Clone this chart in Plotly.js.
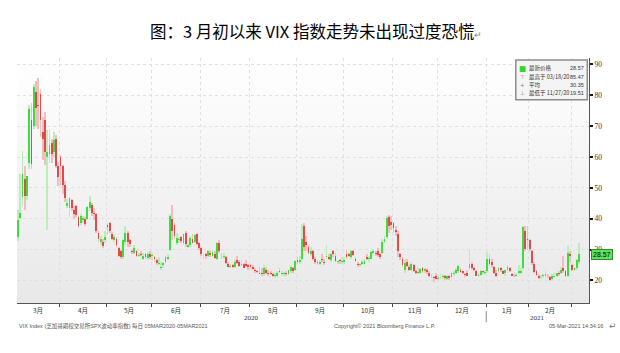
<!DOCTYPE html>
<html><head><meta charset="utf-8">
<script src="https://cdn.plot.ly/plotly-3.0.1.min.js"></script>
<style>html,body{margin:0;padding:0;background:#fff;}#chart{width:620px;height:353px;}</style>
</head><body><div id="chart"></div>
<script>
// ---- data: VIX daily candles, 05MAR2020 - 04MAR2021 ----
const dates = [
'2020-03-05','2020-03-06','2020-03-09','2020-03-10','2020-03-11','2020-03-12','2020-03-13','2020-03-16','2020-03-17','2020-03-18','2020-03-19','2020-03-20','2020-03-23','2020-03-24','2020-03-25','2020-03-26','2020-03-27','2020-03-30','2020-03-31',
'2020-04-01','2020-04-02','2020-04-03','2020-04-06','2020-04-07','2020-04-08','2020-04-09','2020-04-13','2020-04-14','2020-04-15','2020-04-16','2020-04-17','2020-04-20','2020-04-21','2020-04-22','2020-04-23','2020-04-24','2020-04-27','2020-04-28','2020-04-29','2020-04-30',
'2020-05-01','2020-05-04','2020-05-05','2020-05-06','2020-05-07','2020-05-08','2020-05-11','2020-05-12','2020-05-13','2020-05-14','2020-05-15','2020-05-18','2020-05-19','2020-05-20','2020-05-21','2020-05-22','2020-05-26','2020-05-27','2020-05-28','2020-05-29',
'2020-06-01','2020-06-02','2020-06-03','2020-06-04','2020-06-05','2020-06-08','2020-06-09','2020-06-10','2020-06-11','2020-06-12','2020-06-15','2020-06-16','2020-06-17','2020-06-18','2020-06-19','2020-06-22','2020-06-23','2020-06-24','2020-06-25','2020-06-26','2020-06-29','2020-06-30',
'2020-07-01','2020-07-02','2020-07-06','2020-07-07','2020-07-08','2020-07-09','2020-07-10','2020-07-13','2020-07-14','2020-07-15','2020-07-16','2020-07-17','2020-07-20','2020-07-21','2020-07-22','2020-07-23','2020-07-24','2020-07-27','2020-07-28','2020-07-29','2020-07-30','2020-07-31',
'2020-08-03','2020-08-04','2020-08-05','2020-08-06','2020-08-07','2020-08-10','2020-08-11','2020-08-12','2020-08-13','2020-08-14','2020-08-17','2020-08-18','2020-08-19','2020-08-20','2020-08-21','2020-08-24','2020-08-25','2020-08-26','2020-08-27','2020-08-28','2020-08-31',
'2020-09-01','2020-09-02','2020-09-03','2020-09-04','2020-09-08','2020-09-09','2020-09-10','2020-09-11','2020-09-14','2020-09-15','2020-09-16','2020-09-17','2020-09-18','2020-09-21','2020-09-22','2020-09-23','2020-09-24','2020-09-25','2020-09-28','2020-09-29','2020-09-30',
'2020-10-01','2020-10-02','2020-10-05','2020-10-06','2020-10-07','2020-10-08','2020-10-09','2020-10-12','2020-10-13','2020-10-14','2020-10-15','2020-10-16','2020-10-19','2020-10-20','2020-10-21','2020-10-22','2020-10-23','2020-10-26','2020-10-27','2020-10-28','2020-10-29','2020-10-30',
'2020-11-02','2020-11-03','2020-11-04','2020-11-05','2020-11-06','2020-11-09','2020-11-10','2020-11-11','2020-11-12','2020-11-13','2020-11-16','2020-11-17','2020-11-18','2020-11-19','2020-11-20','2020-11-23','2020-11-24','2020-11-25','2020-11-27','2020-11-30',
'2020-12-01','2020-12-02','2020-12-03','2020-12-04','2020-12-07','2020-12-08','2020-12-09','2020-12-10','2020-12-11','2020-12-14','2020-12-15','2020-12-16','2020-12-17','2020-12-18','2020-12-21','2020-12-22','2020-12-23','2020-12-24','2020-12-28','2020-12-29','2020-12-30','2020-12-31',
'2021-01-04','2021-01-05','2021-01-06','2021-01-07','2021-01-08','2021-01-11','2021-01-12','2021-01-13','2021-01-14','2021-01-15','2021-01-19','2021-01-20','2021-01-21','2021-01-22','2021-01-25','2021-01-26','2021-01-27','2021-01-28','2021-01-29',
'2021-02-01','2021-02-02','2021-02-03','2021-02-04','2021-02-05','2021-02-08','2021-02-09','2021-02-10','2021-02-11','2021-02-12','2021-02-16','2021-02-17','2021-02-18','2021-02-19','2021-02-22','2021-02-23','2021-02-24','2021-02-25','2021-02-26',
'2021-03-01','2021-03-02','2021-03-03','2021-03-04'
];
const open = [
34.0,40.2,47.0,53.0,47.5,58.0,72.0,70.0,81.0,77.0,80.5,68.0,72.0,60.0,61.0,64.5,61.5,65.8,57.2,
60.0,57.0,51.0,44.0,43.5,46.0,43.0,44.0,40.5,38.5,39.5,40.0,40.0,43.5,44.5,42.0,41.5,35.5,32.5,32.5,33.0,
38.0,38.5,35.0,33.0,33.5,30.5,29.5,27.5,32.5,35.5,33.0,29.5,29.0,29.5,27.8,28.7,27.0,28.5,27.3,28.5,
28.0,27.5,26.5,25.5,24.0,25.0,26.0,27.0,30.0,40.0,38.0,32.0,33.0,34.0,32.0,35.5,31.0,31.5,33.5,32.5,35.0,32.0,
30.5,27.5,28.5,28.0,29.0,28.0,28.5,27.0,32.0,28.0,27.5,27.5,25.5,24.5,25.0,24.5,26.5,26.0,25.0,25.5,25.5,25.0,
25.0,24.5,23.5,23.0,22.5,22.5,22.0,23.5,22.5,22.5,22.0,21.5,21.5,23.0,22.0,22.0,22.5,22.0,23.0,24.0,23.5,
26.5,26.0,27.0,37.5,32.5,31.0,28.5,29.5,27.0,26.0,25.5,27.0,26.0,27.5,27.5,26.5,29.5,28.0,26.0,26.5,26.0,
26.0,28.5,28.5,27.5,29.5,27.0,25.5,25.0,25.5,25.5,27.5,27.0,27.0,29.0,29.0,29.5,28.5,29.0,32.5,34.0,40.5,39.0,
38.5,36.5,35.0,28.5,27.0,23.5,26.0,24.5,23.5,25.0,23.0,22.5,22.5,24.0,23.0,23.5,22.5,21.5,21.0,21.5,
20.5,21.0,21.0,21.5,20.5,21.5,21.0,22.0,22.5,23.0,23.5,23.0,22.0,22.5,24.0,25.5,24.0,23.0,21.5,21.8,23.0,22.5,
23.0,27.0,26.0,24.5,22.5,23.0,24.0,23.0,22.5,23.5,24.0,22.0,21.5,21.5,22.5,22.5,24.0,36.0,33.5,
33.0,29.5,25.5,23.0,21.5,21.0,21.5,21.5,21.5,21.0,20.5,21.0,21.5,22.5,22.5,24.0,23.0,21.5,28.5,
25.0,23.5,24.0,26.0
];
const high = [
42.8,54.4,62.1,57.0,54.0,76.8,77.6,83.6,84.8,85.47,82.0,73.0,74.5,68.9,69.0,66.0,68.0,67.0,58.5,
60.6,57.5,52.3,46.5,47.0,46.5,44.0,44.5,41.0,41.5,41.0,40.5,44.0,47.5,45.0,43.5,42.0,36.0,34.5,33.5,36.0,
38.5,39.0,35.8,34.8,34.0,30.8,30.0,33.5,37.5,36.0,33.5,30.0,31.5,30.0,29.0,29.5,29.0,29.0,29.2,29.5,
29.0,28.0,27.0,27.5,26.0,26.0,28.0,28.5,41.5,44.4,38.5,35.5,34.0,34.5,35.5,36.0,32.0,34.5,35.0,35.0,35.5,32.5,
31.0,28.5,29.0,30.0,29.5,30.0,29.5,32.5,33.0,29.0,29.0,28.0,26.0,25.5,25.5,27.0,28.0,26.5,26.5,25.8,26.5,25.5,
25.5,25.0,24.0,23.5,24.5,24.0,25.0,24.5,23.5,23.0,22.5,22.5,23.0,24.0,23.0,22.8,23.0,23.5,24.8,24.5,26.5,
27.5,28.0,38.3,38.5,34.5,31.5,31.0,30.0,27.5,26.5,26.5,28.5,27.0,31.5,28.5,29.0,29.8,29.0,26.5,27.0,27.5,
27.5,30.0,29.0,29.8,30.0,27.5,26.0,25.8,26.5,27.0,28.5,28.0,29.5,30.0,29.5,30.5,28.8,33.5,34.5,41.0,41.2,41.0,
39.0,37.5,36.0,29.0,27.5,26.5,27.0,25.0,26.0,25.5,23.5,24.0,24.0,24.5,24.0,24.0,23.0,22.0,21.5,22.5,
21.5,22.0,22.0,21.8,21.8,21.8,22.8,23.0,24.0,25.0,24.0,23.2,22.5,23.5,30.0,26.0,24.5,23.3,22.5,23.5,23.2,23.5,
29.2,28.5,27.0,24.8,23.5,24.5,24.5,23.5,23.5,25.0,24.5,22.5,22.0,22.5,25.0,24.0,37.5,37.8,37.5,
33.5,29.8,26.0,23.5,22.0,21.8,22.0,23.0,22.0,21.3,22.0,22.5,22.5,23.0,24.5,28.0,23.5,31.2,29.5,
25.5,24.5,27.0,32.0
];
const low = [
32.9,40.0,44.0,43.0,46.0,56.0,56.0,69.0,70.0,69.0,66.5,59.0,57.5,36.5,58.0,58.0,60.0,56.5,50.5,
51.0,48.0,45.5,43.5,40.5,42.5,40.0,40.5,37.0,38.0,38.5,37.5,39.5,42.5,41.0,39.5,35.5,32.5,31.5,30.5,32.0,
35.0,35.5,33.0,32.5,31.0,27.5,27.0,27.0,31.5,31.0,31.0,28.5,28.5,27.5,27.5,27.8,26.5,27.0,26.5,26.8,
26.5,26.0,25.0,25.0,23.5,24.0,25.5,26.5,29.5,33.0,33.5,31.5,32.0,32.0,31.5,31.0,30.5,31.0,32.0,32.0,31.5,30.0,
28.0,26.5,27.0,27.5,27.5,27.5,27.0,26.5,29.0,27.0,27.0,25.5,24.5,24.0,24.0,24.0,25.5,24.5,24.5,24.0,24.5,23.5,
23.8,23.5,22.5,22.3,22.0,21.5,21.5,22.0,21.5,21.8,21.0,20.9,21.0,22.5,21.5,21.5,21.5,21.8,22.5,22.5,23.0,
25.5,25.5,26.5,29.5,29.5,28.5,28.0,26.5,25.5,25.0,25.0,26.0,25.0,27.0,26.5,26.0,27.5,26.0,25.5,25.5,25.5,
25.5,27.0,27.5,27.0,27.8,26.0,24.5,24.5,25.0,25.0,26.5,26.0,26.8,28.5,28.0,27.5,27.0,28.5,32.0,33.5,35.5,36.5,
35.5,34.5,27.5,26.5,24.5,22.5,24.5,23.0,23.0,22.8,22.0,22.0,22.0,22.5,22.5,22.0,21.0,20.8,19.51,20.5,
20.0,20.5,20.5,20.2,20.3,20.3,20.5,21.5,22.0,22.5,22.5,22.0,21.0,21.5,23.5,23.5,23.0,21.3,21.0,21.5,22.0,21.8,
22.5,24.8,24.0,22.0,21.0,22.5,22.8,22.0,21.5,23.0,22.8,21.3,21.0,21.0,22.0,22.0,23.5,29.5,30.0,
29.5,25.0,22.5,21.5,20.5,20.5,20.8,20.5,20.8,19.7,20.0,21.0,21.0,21.5,22.0,22.5,21.0,21.0,26.0,
23.0,23.0,23.5,25.5
];
const close = [
39.6,41.9,54.5,47.3,53.9,75.5,57.8,82.7,75.9,76.5,72.0,66.0,61.6,61.7,64.0,61.0,65.5,57.1,53.5,
57.1,50.9,46.8,45.2,46.7,43.4,41.7,41.2,37.8,40.8,40.1,38.2,43.8,45.4,42.0,41.4,35.9,33.3,33.6,31.2,34.2,
37.2,36.0,33.6,34.1,31.4,28.0,27.6,33.0,35.3,32.6,31.9,29.3,30.5,28.0,28.2,28.2,28.0,27.6,28.6,27.5,
28.2,26.8,25.7,25.8,24.5,25.8,27.6,27.6,40.8,36.1,34.4,33.7,33.5,32.9,35.1,31.8,31.4,33.8,32.2,34.7,31.8,30.4,
28.6,27.7,27.9,29.4,28.1,29.3,27.3,32.2,29.5,27.8,28.0,25.7,24.5,24.8,24.3,26.1,25.8,24.7,25.4,24.1,24.8,24.5,
24.3,23.8,23.0,22.7,22.2,22.1,24.0,22.3,22.1,22.1,21.4,21.5,22.5,22.7,22.5,22.4,22.0,23.3,24.5,23.0,26.4,
26.1,26.6,33.6,30.8,31.5,28.8,29.7,26.9,25.9,25.6,26.0,26.5,25.8,27.8,26.9,28.6,28.5,26.4,26.2,26.3,26.4,
26.7,27.6,28.0,29.5,28.1,26.4,25.0,25.1,26.1,26.4,27.0,27.4,29.2,29.4,28.7,28.1,27.6,32.5,33.4,40.3,37.6,38.0,
37.1,35.6,29.6,27.6,24.9,25.8,24.8,23.5,25.4,23.1,22.5,22.7,23.8,23.1,23.7,22.7,21.6,21.3,20.8,20.6,
20.8,21.2,21.3,20.8,21.3,20.7,22.3,22.5,23.3,24.7,22.9,22.5,21.9,21.6,25.2,24.2,23.3,21.5,21.7,23.1,22.8,22.8,
27.0,25.3,25.1,22.4,21.6,24.1,23.3,22.2,23.3,24.3,23.2,21.6,21.3,21.9,23.2,23.0,37.2,30.2,33.1,
30.2,25.6,22.9,21.8,20.9,21.2,21.6,22.0,21.3,20.0,21.5,21.5,22.5,22.1,23.5,23.1,21.3,28.9,28.0,
23.4,24.1,26.7,28.57
];
const yTicks = [20,30,40,50,60,70,80,90];
const legendLabels = ['最新价格','最高于 03/18/20','平均','最低于 11/27/20'];
const legendValues = ['28.57','85.47','30.35','19.51'];
const legendIcons = ['■','⊤','+','⊥'];
const lastPrice = '28.57';
const titleText = '图：3 月初以来 VIX 指数走势未出现过度恐慌';
const footLeft = 'VIX Index (芝加哥期权交易所SPX波动率指数) 每日 05MAR2020-05MAR2021';
const footMid = 'Copyright© 2021 Bloomberg Finance L.P.';
const footRight = '05-Mar-2021 14:34:16';

// ---- build ----
const n = dates.length;
const xi = dates.map((d, i) => i);
const up = xi.map(i => close[i] >= open[i]);
const wickCol = up.map(u => u ? '#b9edb9' : '#f4bcbc');
const bodyCol = up.map(u => u ? '#3fdc3f' : '#e24a4a');
const bodyBase = xi.map(i => Math.min(open[i], close[i]));
const bodyH = xi.map(i => Math.max(Math.abs(close[i] - open[i]), 0.25));
const wickH = xi.map(i => high[i] - low[i]);

// month groups
const groups = [];
dates.forEach((d, i) => {
  const key = d.slice(0, 7);
  if (!groups.length || groups[groups.length - 1].key !== key) groups.push({key, s: i, e: i});
  else groups[groups.length - 1].e = i;
});
const boundaries = groups.slice(1).map(g => g.s - 0.5);
const xMax = n - 1 + 4.5;

const annotations = [];
groups.forEach(g => {
  if (g.e - g.s < 5) return;
  const m = parseInt(g.key.slice(5, 7), 10);
  annotations.push({x: (g.s + g.e) / 2, xref: 'x', y: 0, yref: 'paper', yshift: -6.5, xanchor: 'center', yanchor: 'middle',
    text: m + '月', showarrow: false, font: {family: 'Noto Sans CJK SC', size: 6.5, color: '#333'}});
});
// years
const years = [...new Set(dates.map(d => d.slice(0, 4)))];
const shapes = [];
years.forEach((y, k) => {
  const idx = xi.filter(i => dates[i].slice(0, 4) === y);
  const s = idx[0] - 0.5;
  const e = k === years.length - 1 ? xMax : idx[idx.length - 1] + 0.5;
  annotations.push({x: (s + e) / 2, xref: 'x', y: 0, yref: 'paper', yshift: -14.5, xanchor: 'center', yanchor: 'middle',
    text: y, showarrow: false, font: {family: 'Liberation Serif', size: 7, color: '#333'}});
  if (k > 0) shapes.push({type: 'line', xref: 'x', yref: 'paper', x0: s, x1: s, y0: -0.033, y1: -0.078,
    line: {color: '#888', width: 1}});
});
// last price tag
annotations.push({x: 1, xref: 'paper', y: close[n - 1], yref: 'y', xanchor: 'left', xshift: 2, yanchor: 'middle',
  text: lastPrice, showarrow: false, bgcolor: '#5ee05e', bordercolor: '#2f8f2f', borderwidth: 1, borderpad: 1,
  font: {family: 'Liberation Sans Narrow, Liberation Sans', size: 7, color: '#000'}});
// legend box
shapes.push({type: 'rect', xref: 'paper', yref: 'paper', x0: 0.872, x1: 0.997, y0: 0.83, y1: 0.992,
  fillcolor: '#f4f4f4', line: {color: '#8c8c8c', width: 1.5}});
const rowY = [0.958, 0.924, 0.890, 0.856];
legendLabels.forEach((lab, k) => {
  annotations.push({x: 0.884, xref: 'paper', y: rowY[k], yref: 'paper', xanchor: 'center', yanchor: 'middle',
    text: legendIcons[k], showarrow: false,
    font: {family: 'DejaVu Sans', size: k === 0 ? 7.5 : 5.5, color: k === 0 ? '#2fd82f' : '#777'}});
  annotations.push({x: 0.891, xref: 'paper', y: rowY[k], yref: 'paper', xanchor: 'left', yanchor: 'middle',
    text: lab, showarrow: false, font: {family: 'Liberation Sans Narrow, Noto Sans CJK SC', size: 5.5, color: '#333'}});
  annotations.push({x: 0.995, xref: 'paper', y: rowY[k], yref: 'paper', xanchor: 'right', yanchor: 'middle',
    text: legendValues[k], showarrow: false, font: {family: 'Liberation Sans Narrow, Liberation Sans', size: 5.5, color: '#333'}});
});
// footer
const footFont = {family: 'Liberation Sans Narrow, Liberation Sans, Noto Sans CJK SC', size: 5.5, color: '#555'};
annotations.push({x: 0, xref: 'paper', y: 0, yref: 'paper', yshift: -23, xanchor: 'left', yanchor: 'middle',
  text: footLeft, showarrow: false, font: footFont});
annotations.push({x: 0.551, xref: 'paper', y: 0, yref: 'paper', yshift: -23, xanchor: 'left', yanchor: 'middle',
  text: footMid, showarrow: false, font: footFont});
annotations.push({x: 1.028, xref: 'paper', y: 0, yref: 'paper', yshift: -23, xanchor: 'right', yanchor: 'middle',
  text: footRight, showarrow: false, font: footFont});
annotations.push({x: 1.031, xref: 'paper', y: 0, yref: 'paper', yshift: -23, xanchor: 'left', yanchor: 'middle',
  text: '↵', showarrow: false, font: {family: 'DejaVu Sans', size: 9, color: '#777'}});

const grad = "<svg xmlns='http://www.w3.org/2000/svg' width='10' height='100' preserveAspectRatio='none'>" +
  "<defs><linearGradient id='g' x1='0' y1='0' x2='0' y2='1'><stop offset='0' stop-color='#ffffff'/>" +
  "<stop offset='1' stop-color='#e8e8e8'/></linearGradient></defs><rect width='10' height='100' fill='url(#g)'/></svg>";

const traces = [
  {type: 'bar', x: xi, y: wickH, base: low, width: 0.8, marker: {color: wickCol, line: {width: 0}}, hoverinfo: 'skip'},
  {type: 'bar', x: xi, y: bodyH, base: bodyBase, width: 0.8, marker: {color: bodyCol, line: {width: 0}}, hoverinfo: 'skip'}
];

const layout = {
  width: 620, height: 353,
  margin: {l: 17, r: 31, t: 58, b: 50},
  paper_bgcolor: '#ffffff', plot_bgcolor: 'rgba(0,0,0,0)',
  showlegend: false, barmode: 'overlay', bargap: 0,
  title: {text: titleText + "<span style='font-size:9px;color:#888'>↵</span>", xref: 'container', x: 0.51, xanchor: 'center',
    y: 0.909, yref: 'container', yanchor: 'middle',
    font: {family: 'Noto Sans CJK SC', size: 16.5, color: '#000'}},
  xaxis: {range: [-0.5, xMax], tickmode: 'array', tickvals: boundaries, showticklabels: false,
    ticks: 'outside', ticklen: 3, tickcolor: '#444', tickwidth: 1,
    showgrid: true, gridcolor: '#e0e0e0', griddash: 'dot', gridwidth: 1,
    showline: true, linecolor: '#555', linewidth: 1, zeroline: false, fixedrange: true},
  yaxis: {side: 'right', range: [12.7, 92.1], tickmode: 'array', tickvals: yTicks,
    ticks: 'outside', ticklen: 3, tickwidth: 2, tickcolor: '#111',
    tickfont: {family: 'Liberation Serif', size: 7.5, color: '#333'},
    showgrid: true, gridcolor: '#e0e0e0', griddash: 'dot', gridwidth: 1,
    showline: true, linecolor: '#555', linewidth: 1, zeroline: false, fixedrange: true},
  images: [{source: 'data:image/svg+xml;charset=utf-8,' + encodeURIComponent(grad), xref: 'paper', yref: 'paper',
    x: 0, y: 1, sizex: 1, sizey: 1, sizing: 'stretch', xanchor: 'left', yanchor: 'top', layer: 'below'}],
  shapes: shapes,
  annotations: annotations
};

Plotly.newPlot('chart', traces, layout, {staticPlot: true, displayModeBar: false});
</script>
</body></html>
